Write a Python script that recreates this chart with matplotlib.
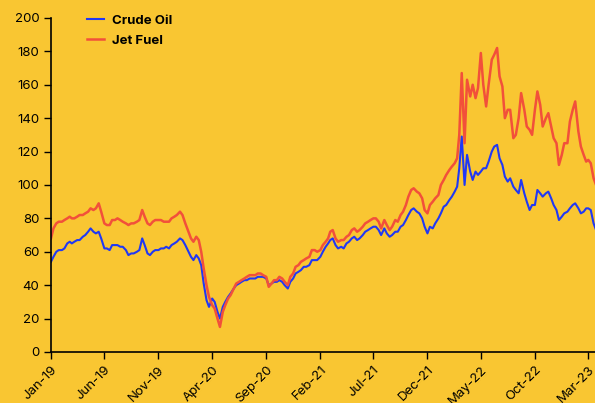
import numpy as np
import pandas as pd
import matplotlib
matplotlib.use("Agg")
from matplotlib import pyplot as plt
import matplotlib.dates as mdates

# weekly-ish readings: 4 per month (1st, 8th, 16th, 23rd), Jan-19 .. Mar-23
crude = [
    # 2019
    54, 57, 60, 61,  61, 62, 65, 66,  65, 66, 67, 67,  69, 70, 72, 74,
    72, 71, 72, 68,  62, 62, 61, 64,  64, 64, 63, 63,  61, 58, 59, 59,
    60, 61, 68, 64,  59, 58, 60, 61,  61, 62, 62, 63,  62, 64, 65, 66,
    # 2020
    68, 67, 64, 61,  57, 55, 58, 56,  52, 41, 31, 27,  32, 30, 24, 20,
    27, 30, 33, 35,  38, 40, 41, 42,  43, 43, 44, 44,  44, 45, 45, 45,
    44, 40, 41, 42,  42, 43, 42, 40,  38, 42, 44, 47,  48, 49, 51, 51,
    # 2021
    52, 55, 55, 55,  57, 60, 63, 65,  67, 68, 64, 62,  63, 62, 65, 66,
    68, 69, 67, 68,  70, 72, 73, 74,  75, 75, 73, 70,  74, 71, 69, 70,
    72, 72, 75, 76,  79, 82, 85, 86,  84, 83, 80, 75,  71, 75, 74, 77,
    # 2022
    80, 83, 87, 88,  91, 93, 96, 99,  110, 129, 100, 118,  108, 103, 108, 106,
    108, 110, 110, 114,  120, 123, 124, 116,  112, 105, 102, 104,  99, 97, 95, 103,
    95, 90, 85, 88,  88, 97, 95, 93,  95, 96, 92, 88,  85, 79, 81, 83,
    # 2023
    84, 86, 88, 89,  86, 83, 84, 86,  86, 85, 77, 73,
]
jet_fuel = [
    # 2019
    68, 74, 77, 78,  78, 79, 80, 81,  80, 80, 81, 82,  82, 83, 84, 86,
    85, 86, 89, 84,  77, 76, 76, 79,  79, 80, 79, 78,  77, 76, 77, 77,
    78, 79, 85, 81,  77, 76, 78, 79,  79, 79, 78, 78,  78, 80, 81, 82,
    # 2020
    84, 82, 77, 73,  68, 66, 69, 67,  60, 50, 40, 33,  28, 26, 20, 15,
    24, 28, 32, 34,  38, 41, 42, 43,  44, 45, 46, 46,  46, 47, 47, 46,
    45, 39, 41, 43,  43, 45, 44, 42,  40, 45, 47, 51,  52, 54, 55, 56,
    # 2021
    57, 61, 61, 60,  61, 64, 66, 68,  72, 73, 68, 66,  67, 67, 69, 70,
    73, 74, 72, 73,  75, 77, 78, 79,  80, 80, 78, 74,  79, 76, 73, 75,
    79, 78, 82, 84,  88, 93, 97, 98,  96, 95, 92, 85,  83, 88, 90, 92,
    # 2022
    94, 100, 103, 106,  109, 111, 113, 116,  130, 167, 125, 163,  153, 160, 152, 158,
    179, 160, 147, 160,  175, 178, 182, 165,  159, 140, 145, 145,  128, 130, 140, 155,
    145, 135, 133, 130,  145, 156, 148, 135,  140, 143, 135, 128,  125, 112, 118, 125,
    # 2023
    125, 138, 145, 150,  132, 123, 118, 114,  115, 113, 104, 100,
]

months = pd.date_range("2019-01-01", "2023-03-01", freq="MS")
dates = [m + pd.Timedelta(days=d) for m in months for d in (0, 7, 15, 22)]

tick_dates = pd.date_range("2019-01-01", "2023-03-01", freq="5MS")
tick_labels = [d.strftime("%b-%y") for d in tick_dates]

bg = "#F9C632"
plt.rcParams["font.family"] = ["Inter", "DejaVu Sans"]

fig = plt.figure(figsize=(5.95, 4.03), dpi=100, facecolor=bg)
ax = fig.add_axes([0.0857, 0.1266, 0.9143, 0.8289], facecolor=bg)

ax.plot(dates, crude, color="#2038F5", lw=1.5, label="Crude Oil")
ax.plot(dates, jet_fuel, color="#F2503A", lw=1.8, label="Jet Fuel")

ax.set_ylim(0, 200)
ax.set_yticks(range(0, 201, 20))
ax.set_xlim(pd.Timestamp("2019-01-01"), pd.Timestamp("2023-03-20"))
ax.set_xticks(tick_dates)
ax.set_xticklabels(tick_labels, rotation=45, ha="right", va="top",
                   rotation_mode="anchor")
ax.tick_params(axis="both", labelsize=9.5, length=5, width=1, colors="black",
               direction="out")
for s in ["top", "right"]:
    ax.spines[s].set_visible(False)
for s in ["left", "bottom"]:
    ax.spines[s].set_linewidth(1.2)

leg = ax.legend(loc="upper left", bbox_to_anchor=(0.045, 1.045), frameon=False,
                handlelength=1.3, handletextpad=0.6, labelspacing=0.55,
                prop={"weight": "bold", "size": 9.5})

fig.savefig("out.png", dpi=100, facecolor=bg)
